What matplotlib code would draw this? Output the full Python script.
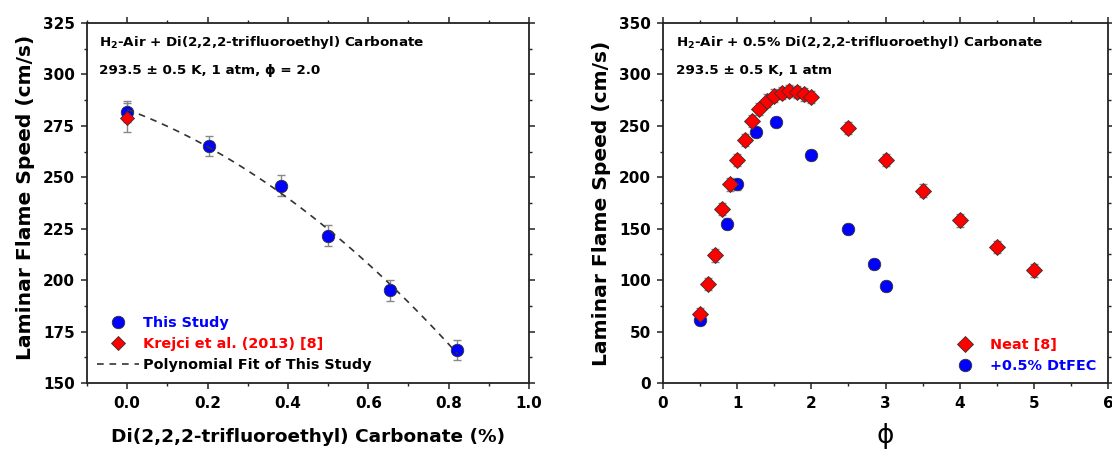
import numpy as np
import matplotlib
matplotlib.use("Agg")
import matplotlib.pyplot as plt
from matplotlib.ticker import MultipleLocator
from matplotlib.lines import Line2D

plt.rcParams['font.family'] = ['DejaVu Sans']
plt.rcParams['font.weight'] = 'bold'
plt.rcParams['mathtext.fontset'] = 'dejavusans'

# ---- Left panel data ----
conc_this = [0.0, 0.204, 0.384, 0.501, 0.655, 0.822]
speed_this = [281.9, 265.3, 246.0, 221.6, 195.1, 166.1]
err_this = [5, 5, 5, 5, 5, 5]
conc_krejci = [0.0]
speed_krejci = [278.9]
err_krejci = [7]

# ---- Right panel data ----
phi_neat = [0.5, 0.6, 0.7, 0.8, 0.9, 1.0, 1.1, 1.2, 1.3, 1.4, 1.5, 1.6, 1.7, 1.8,
            1.9, 2.0, 2.5, 3.0, 3.5, 4.0, 4.5, 5.0]
speed_neat = [67, 96, 124, 169, 193, 217, 236, 254.5, 266.5, 274.6, 279.5, 282,
              283.7, 282.7, 280.5, 278, 248, 217, 187, 158, 132, 109.5]
err_neat = [6] * len(phi_neat)
phi_dtfec = [0.5, 0.857, 1.0, 1.25, 1.52, 2.0, 2.5, 2.84, 3.0]
speed_dtfec = [61, 155, 193, 244, 254, 222, 150, 116, 94]
err_dtfec = [5] * len(phi_dtfec)

BLUE = '#0000FF'
RED = '#FF0000'
EDGE = '#333333'
ERRC = '#888888'

fig = plt.figure(figsize=(11.12, 4.49), dpi=100)
axL = fig.add_axes([87/1112, 66/449, 442/1112, 360/449])
axR = fig.add_axes([663/1112, 66/449, 445/1112, 360/449])

def style(ax):
    for s in ax.spines.values():
        s.set_linewidth(1.3)
        s.set_color('#222222')
    ax.tick_params(which='both', direction='out', top=True, right=True,
                   labeltop=False, labelright=False, color='#222222')
    ax.tick_params(which='major', length=4, width=1.1, labelsize=11)
    ax.tick_params(which='minor', length=2.5, width=1.0)
    ax.tick_params(axis='x', which='major', pad=5)
    ax.tick_params(axis='y', which='major', pad=4.5)
    for lab in ax.get_xticklabels() + ax.get_yticklabels():
        lab.set_fontweight('bold')

LEG_FS = 10.4
ANN_FS = 9.7
LAB_FS = 14.6

# ---- Left ----
axL.errorbar(conc_this, speed_this, yerr=err_this, fmt='none', ecolor=ERRC,
             elinewidth=1.0, capsize=3, capthick=1.0, zorder=2)
axL.errorbar(conc_krejci, speed_krejci, yerr=err_krejci, fmt='none', ecolor=ERRC,
             elinewidth=1.0, capsize=3, capthick=1.0, zorder=2)
axL.plot(conc_this, speed_this, 'o', color=BLUE, mec=EDGE, mew=0.6, ms=9, zorder=3)
axL.plot(conc_krejci, speed_krejci, 'D', color=RED, mec=EDGE, mew=0.6, ms=7.5, zorder=4)
coef = np.polyfit(conc_this, speed_this, 2)
xf = np.linspace(conc_this[0], conc_this[-1], 100)
axL.plot(xf, np.polyval(coef, xf), color='#333333', lw=1.2, dashes=(4, 3.5), zorder=5)

axL.set_xlim(-0.1, 1.0)
axL.set_ylim(150, 325)
axL.xaxis.set_major_locator(MultipleLocator(0.2))
axL.xaxis.set_minor_locator(MultipleLocator(0.1))
axL.yaxis.set_major_locator(MultipleLocator(25))
axL.yaxis.set_minor_locator(MultipleLocator(12.5))
axL.set_xticks([0.0, 0.2, 0.4, 0.6, 0.8, 1.0])
axL.set_xticklabels(['0.0', '0.2', '0.4', '0.6', '0.8', '1.0'])
style(axL)
axL.set_xlabel('Di(2,2,2-trifluoroethyl) Carbonate (%)', fontsize=13.3, fontweight='bold')
axL.set_ylabel('Laminar Flame Speed (cm/s)', fontsize=LAB_FS, fontweight='bold')
axL.xaxis.set_label_coords(0.5, -0.124)
axL.yaxis.set_label_coords(-0.118, 0.515)
axL.text(0.027, 0.936, r'H$_{\mathbf{2}}$-Air + Di(2,2,2-trifluoroethyl) Carbonate',
         transform=axL.transAxes, fontsize=ANN_FS, fontweight='bold', va='baseline', ha='left')
axL.text(0.027, 0.858, '293.5 ± 0.5 K, 1 atm, ϕ = 2.0',
         transform=axL.transAxes, fontsize=ANN_FS, fontweight='bold', va='baseline', ha='left')

hL = [Line2D([], [], marker='o', ls='none', color=BLUE, mec=EDGE, mew=0.6, ms=9),
      Line2D([], [], marker='D', ls='none', color=RED, mec=EDGE, mew=0.6, ms=7.5),
      Line2D([], [], color='#333333', lw=1.2, dashes=(4, 3.5))]
legL = axL.legend(hL, ['This Study', 'Krejci et al. (2013) [8]', 'Polynomial Fit of This Study'],
                  loc='lower left', bbox_to_anchor=(0.0226, 0.03), frameon=False,
                  prop={'size': LEG_FS, 'weight': 'bold'}, handlelength=2.9,
                  handletextpad=0.28, labelspacing=0.5, borderaxespad=0.0, borderpad=0.0)
for t, c in zip(legL.get_texts(), [BLUE, RED, 'black']):
    t.set_color(c)

# ---- Right ----
axR.errorbar(phi_neat, speed_neat, yerr=err_neat, fmt='none', ecolor=ERRC,
             elinewidth=1.0, capsize=3, capthick=1.0, zorder=2)
axR.errorbar(phi_dtfec, speed_dtfec, yerr=err_dtfec, fmt='none', ecolor=ERRC,
             elinewidth=1.0, capsize=3, capthick=1.0, zorder=2)
axR.plot(phi_dtfec, speed_dtfec, 'o', color=BLUE, mec=EDGE, mew=0.6, ms=9, zorder=3)
axR.plot(phi_neat, speed_neat, 'D', color=RED, mec=EDGE, mew=0.6, ms=8, zorder=4)
axR.set_xlim(0, 6)
axR.set_ylim(0, 350)
axR.xaxis.set_major_locator(MultipleLocator(1))
axR.xaxis.set_minor_locator(MultipleLocator(0.5))
axR.yaxis.set_major_locator(MultipleLocator(50))
axR.yaxis.set_minor_locator(MultipleLocator(25))
style(axR)
axR.set_xlabel('ϕ', fontsize=19, fontweight='normal')
axR.set_ylabel('Laminar Flame Speed (cm/s)', fontsize=LAB_FS, fontweight='bold')
axR.xaxis.set_label_coords(0.5, -0.11)
axR.yaxis.set_label_coords(-0.117, 0.5)
axR.text(0.029, 0.936, r'H$_{\mathbf{2}}$-Air + 0.5% Di(2,2,2-trifluoroethyl) Carbonate',
         transform=axR.transAxes, fontsize=ANN_FS, fontweight='bold', va='baseline', ha='left')
axR.text(0.029, 0.858, '293.5 ± 0.5 K, 1 atm',
         transform=axR.transAxes, fontsize=ANN_FS, fontweight='bold', va='baseline', ha='left')
hR = [Line2D([], [], marker='D', ls='none', color=RED, mec=EDGE, mew=0.6, ms=8),
      Line2D([], [], marker='o', ls='none', color=BLUE, mec=EDGE, mew=0.6, ms=9)]
legR = axR.legend(hR, ['Neat [8]', '+0.5% DtFEC'], loc='lower right',
                  bbox_to_anchor=(0.975, 0.028), frameon=False,
                  prop={'size': LEG_FS, 'weight': 'bold'}, handlelength=1.5,
                  handletextpad=1.0, labelspacing=0.5, borderaxespad=0.0, borderpad=0.0)
for t, c in zip(legR.get_texts(), [RED, BLUE]):
    t.set_color(c)

fig.savefig('out.png', dpi=100)
